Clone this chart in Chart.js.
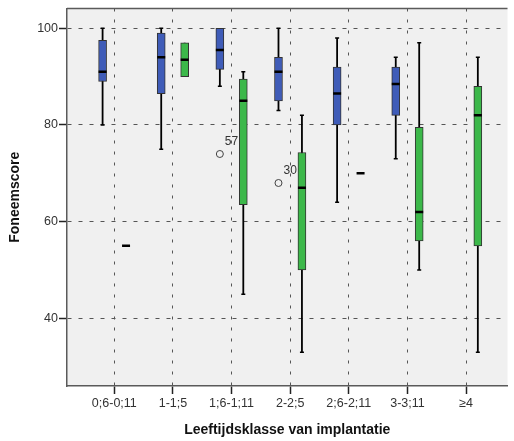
<!DOCTYPE html>
<html lang="nl">
<head>
<meta charset="UTF-8">
<title>Foneemscore per leeftijdsklasse</title>
<script src="https://cdn.jsdelivr.net/npm/chart.js"></script>
<style>
  html, body { margin: 0; padding: 0; background: #fff; }
</style>
</head>
<body>
<canvas id="boxChart" width="514" height="441"></canvas>
<script>
// categories on the x axis
const categories = ['0;6-0;11', '1-1;5', '1;6-1;11', '2-2;5', '2;6-2;11', '3-3;11', '\u22654'];

// first group (blue boxes)
const blueMin = [80, 75, 88, 83, 64, 73, null];
const blueQ1  = [89, 86.5, 91.5, 85, 80, 82, null];
const blueMed = [91, 94, 95.5, 91, 86.5, 88.5, null];
const blueQ3  = [97.5, 99, 100, 94, 92, 92, null];
const blueMax = [100, 100, 100, 100, 98, 94, null];

// second group (green boxes)
const greenMin = [55, 90, 45, 33, 70, 50, 33];
const greenQ1  = [55, 90, 63.5, 50, 70, 56, 55];
const greenMed = [55, 93.5, 85, 67, 70, 62, 82];
const greenQ3  = [55, 97, 89.5, 74.3, 70, 79.5, 88];
const greenMax = [55, 97, 91, 82, 70, 97, 94];

// outliers (blue group)
const outlierCat   = [2, 3];
const outlierVal   = [74, 68];
const outlierLabel = ['57', '30'];

const yTicks = [40, 60, 80, 100];

const shift = 0.2;   // side offset of the two boxes within a category

function buildGroup(mins, q1s, meds, q3s, maxs, dx) {
    const whisker = [], caps = [], boxes = [], medians = [];
    categories.forEach((c, i) => {
        if (meds[i] === null) return;
        const x = i + dx;
        if (maxs[i] > mins[i]) {
            whisker.push({ x: x, y: mins[i] }, { x: x, y: maxs[i] }, { x: x, y: null });
            if (mins[i] < q1s[i]) caps.push({ x: x, y: mins[i] });
            if (maxs[i] > q3s[i]) caps.push({ x: x, y: maxs[i] });
        }
        if (q3s[i] > q1s[i]) boxes.push({ x: x, y: [q1s[i], q3s[i]] });
        medians.push({ x: x, y: meds[i] });
    });
    return { whisker, caps, boxes, medians };
}

const blue = buildGroup(blueMin, blueQ1, blueMed, blueQ3, blueMax, -shift);
const green = buildGroup(greenMin, greenQ1, greenMed, greenQ3, greenMax, shift);
const outliers = outlierCat.map((c, i) => ({ x: c - shift, y: outlierVal[i] }));

const whiskerStyle = {
    type: 'scatter', showLine: true, spanGaps: false,
    borderColor: '#000', borderWidth: 1.8, pointRadius: 0, order: 4
};
const capStyle = {
    type: 'scatter', pointStyle: 'line', pointRadius: 2,
    borderColor: '#000', pointBorderWidth: 1.5, order: 3
};
const boxStyle = {
    type: 'bar', barThickness: 8, grouped: false,
    borderColor: '#333', borderWidth: 1, borderSkipped: false, order: 2
};
const medianStyle = {
    type: 'scatter', pointStyle: 'line', pointRadius: 4,
    borderColor: '#000', pointBorderWidth: 2.5, order: 1
};

const panelPlugin = {
    id: 'panel',
    beforeDraw(chart) {
        const { ctx, chartArea: a } = chart;
        ctx.save();
        ctx.fillStyle = '#f0f0f0';
        ctx.fillRect(a.left, a.top, a.right - a.left, a.bottom - a.top);
        ctx.restore();
    },
    afterDraw(chart) {
        const { ctx, chartArea: a } = chart;
        ctx.save();
        ctx.strokeStyle = '#5a5a5a';
        ctx.lineWidth = 1.5;
        ctx.beginPath();
        ctx.moveTo(a.left, a.top);
        ctx.lineTo(a.right, a.top);
        ctx.stroke();
        ctx.restore();
    }
};

const labelPlugin = {
    id: 'outlierLabels',
    afterDatasetsDraw(chart) {
        const idx = chart.data.datasets.findIndex(d => d.label === 'outliers');
        const meta = chart.getDatasetMeta(idx);
        const ctx = chart.ctx;
        ctx.save();
        ctx.font = '12px "Liberation Sans", Arial, sans-serif';
        ctx.fillStyle = '#333';
        ctx.textAlign = 'left';
        ctx.textBaseline = 'middle';
        meta.data.forEach((pt, i) => {
            ctx.fillText(outlierLabel[i], pt.x + 5, pt.y - 12);
        });
        ctx.restore();
    }
};

new Chart(document.getElementById('boxChart'), {
    type: 'bar',
    data: {
        datasets: [
            Object.assign({ label: 'outliers', type: 'scatter', data: outliers, pointStyle: 'circle',
                pointRadius: 3.5, pointBorderWidth: 1, pointBorderColor: '#444',
                pointBackgroundColor: 'rgba(0,0,0,0)', order: 0 }),
            Object.assign({ label: 'blue median', data: blue.medians }, medianStyle),
            Object.assign({ label: 'green median', data: green.medians }, medianStyle),
            Object.assign({ label: 'blue box', data: blue.boxes, backgroundColor: '#3f5cb8' }, boxStyle),
            Object.assign({ label: 'green box', data: green.boxes, backgroundColor: '#3cb84a' }, boxStyle),
            Object.assign({ label: 'blue caps', data: blue.caps }, capStyle),
            Object.assign({ label: 'green caps', data: green.caps }, capStyle),
            Object.assign({ label: 'blue whisker', data: blue.whisker }, whiskerStyle),
            Object.assign({ label: 'green whisker', data: green.whisker }, whiskerStyle)
        ]
    },
    options: {
        responsive: false,
        animation: false,
        layout: { padding: { top: 7, right: 0, left: 0, bottom: 0 } },
        plugins: {
            legend: { display: false },
            tooltip: { enabled: false }
        },
        scales: {
            x: {
                type: 'linear',
                offset: false,
                min: -0.807,
                max: 6.706,
                afterBuildTicks: (scale) => { scale.ticks = categories.map((c, i) => ({ value: i })); },
                afterFit: (scale) => { scale.height = 55; },
                ticks: {
                    autoSkip: false,
                    maxRotation: 0,
                    padding: 2,
                    color: '#333',
                    font: { family: '"Liberation Sans", Arial, sans-serif', size: 12.5 },
                    callback: (v) => categories[v]
                },
                grid: {
                    offset: false,
                    drawTicks: true,
                    color: '#555',
                    lineWidth: 1,
                    tickLength: 8,
                    tickColor: '#222',
                    tickWidth: 1.5,
                    tickBorderDash: []
                },
                border: { display: true, color: '#5a5a5a', width: 1.5, dash: [3, 8] },
                title: {
                    display: true,
                    text: 'Leeftijdsklasse van implantatie',
                    color: '#111',
                    padding: { top: 0, bottom: 2 },
                    font: { family: '"Liberation Sans", Arial, sans-serif', size: 14, weight: 'bold' }
                }
            },
            y: {
                min: 26,
                max: 104.1,
                afterBuildTicks: (scale) => { scale.ticks = yTicks.map(v => ({ value: v })); },
                afterFit: (scale) => { scale.width = 67; },
                ticks: {
                    padding: 1,
                    color: '#333',
                    font: { family: '"Liberation Sans", Arial, sans-serif', size: 12.5 }
                },
                grid: {
                    drawTicks: true,
                    color: '#555',
                    lineWidth: 1,
                    tickLength: 8,
                    tickColor: '#222',
                    tickWidth: 1.5,
                    tickBorderDash: []
                },
                border: { display: true, color: '#5a5a5a', width: 1.5, dash: [4, 7] },
                title: {
                    display: true,
                    text: 'Foneemscore',
                    color: '#111',
                    padding: { top: 7, bottom: 0 },
                    font: { family: '"Liberation Sans", Arial, sans-serif', size: 14, weight: 'bold' }
                }
            }
        }
    },
    plugins: [panelPlugin, labelPlugin]
});
</script>
</body>
</html>
